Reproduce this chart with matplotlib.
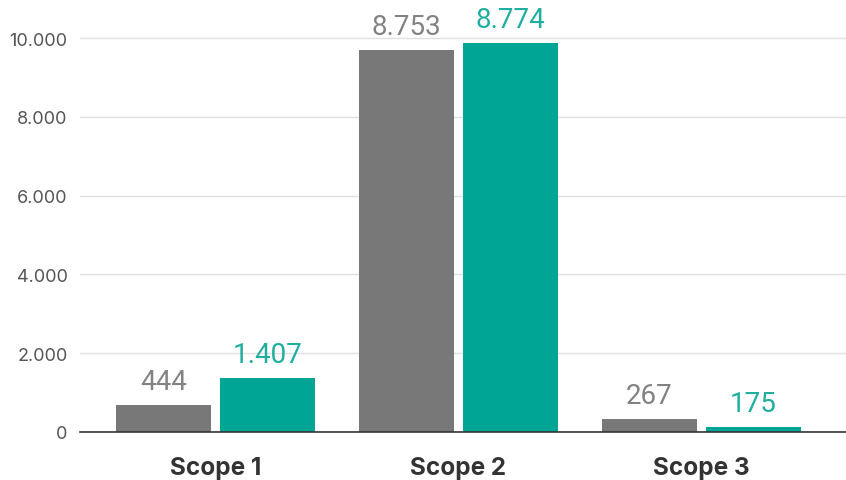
import matplotlib
matplotlib.use("Agg")
import matplotlib.pyplot as plt
import matplotlib.ticker as mticker
import numpy as np

plt.rcParams["font.family"] = ["Inter", "DejaVu Sans"]

# Data
categories = ["Scope 1", "Scope 2", "Scope 3"]
bars_prev = [685, 9695, 330]      # drawn bar heights (grey)
bars_curr = [1370, 9873, 127]     # drawn bar heights (teal)
labels_prev = [444, 8753, 267]    # printed values (grey)
labels_curr = [1407, 8774, 175]   # printed values (teal)

GREY = "#787878"
TEAL = "#00a596"
GREY_TXT = "#828282"
TEAL_TXT = "#1fae9f"


def _dot_thousands(v):
    return f"{v:,.0f}".replace(",", ".")


fig = plt.figure(figsize=(8.46, 4.81), dpi=100)
ax = fig.add_axes([80 / 846, 48 / 481, 766 / 846, 433 / 481])

x = np.arange(len(categories))
w = 95 / 243
off = (95 + 9) / 243 / 2

b1 = ax.bar(x - off, bars_prev, width=w, color=GREY, zorder=3)
b2 = ax.bar(x + off, bars_curr, width=w, color=TEAL, zorder=3)

for bars, labels, col in ((b1, labels_prev, GREY_TXT), (b2, labels_curr, TEAL_TXT)):
    for rect, lab in zip(bars, labels):
        ax.annotate(_dot_thousands(lab),
                    (rect.get_x() + rect.get_width() / 2, rect.get_height()),
                    xytext=(0, 7), textcoords="offset points", ha="center", va="bottom",
                    fontsize=20, color=col, family=["Roboto", "DejaVu Sans"],
                    fontweight="normal")

ax.set_xlim(-135.5 / 243, -135.5 / 243 + 766 / 243)
ax.set_ylim(0, 10990)
ax.set_yticks([0, 2000, 4000, 6000, 8000, 10000])
ax.yaxis.set_major_formatter(mticker.FuncFormatter(lambda v, _: _dot_thousands(v)))
ax.tick_params(axis="y", length=0, pad=9, labelsize=13, labelcolor="#555555")
ax.set_xticks(x)
ax.set_xticklabels(categories, fontsize=17.5, fontweight="bold", color="#333333")
ax.tick_params(axis="x", length=0, pad=17)

ax.grid(axis="y", color="#e0e0e0", linewidth=1, zorder=0)
ax.spines[["top", "right", "left"]].set_visible(False)
ax.spines["bottom"].set_color("#333333")
ax.spines["bottom"].set_linewidth(1.2)
ax.spines["bottom"].set_zorder(4)

fig.savefig("out.png", dpi=100)
